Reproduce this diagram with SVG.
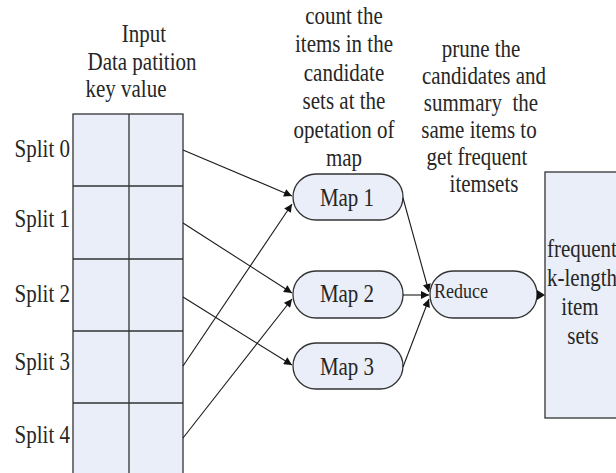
<svg xmlns="http://www.w3.org/2000/svg" width="616" height="473" viewBox="0 0 616 473" font-family="'Liberation Serif', 'DejaVu Serif', serif">
  <style>
    text { font-family: 'Liberation Serif', 'DejaVu Serif', serif; font-size: 21px; fill: #262626;
           transform-box: fill-box; transform-origin: 50% 80%; transform: scaleY(1.18); }
    .c { text-anchor: middle; }
    .e { text-anchor: end; }
    .box { fill: #e9eef8; stroke: #333; stroke-width: 1.3; }
    .grid { stroke: #333; stroke-width: 1.3; fill: none; }
    .edge { stroke: #1a1a1a; stroke-width: 1.1; fill: none; marker-end: url(#arrow); }
  </style>
  <defs>
    <marker id="arrow" viewBox="0 0 10 10" refX="10" refY="5" markerWidth="10" markerHeight="8" markerUnits="userSpaceOnUse" orient="auto">
      <path d="M0,0 L10,5 L0,10 Z" fill="#111"/>
    </marker>
  </defs>
  <rect width="616" height="473" fill="#fff"/>

  <!-- input partition table -->
  <g id="input">
    <text class="c" x="144" y="42">Input</text>
    <text class="c" x="142" y="70">Data patition</text>
    <text class="c" x="126" y="97">key value</text>
    <rect class="box" x="73" y="114" width="110" height="364"/>
    <path class="grid" d="M129,114 V478 M73,186 H183 M73,259 H183 M73,331 H183 M73,403 H183"/>
    <text class="e" x="70" y="157">Split 0</text>
    <text class="e" x="70" y="227">Split 1</text>
    <text class="e" x="70" y="302">Split 2</text>
    <text class="e" x="70" y="370">Split 3</text>
    <text class="e" x="70" y="443">Split 4</text>
  </g>

  <!-- map stage caption -->
  <g id="map-caption">
    <text class="c" x="344" y="24">count the</text>
    <text class="c" x="344" y="52">items in the</text>
    <text class="c" x="344" y="81">candidate</text>
    <text class="c" x="344" y="109">sets at the</text>
    <text class="c" x="344" y="138">opetation of</text>
    <text class="c" x="344" y="166">map</text>
  </g>

  <!-- reduce stage caption -->
  <g id="reduce-caption">
    <text class="c" x="481" y="57">prune the</text>
    <text class="c" x="484" y="84">candidates and</text>
    <text class="c" x="481" y="111">summary&#160; the</text>
    <text class="c" x="479" y="138">same items to</text>
    <text class="c" x="477" y="165">get frequent</text>
    <text class="c" x="484" y="192">itemsets</text>
  </g>

  <g id="map1">
    <rect class="box" x="293" y="174" width="110" height="46" rx="23"/>
    <text class="c" x="347" y="206">Map 1</text>
  </g>
  <g id="map2">
    <rect class="box" x="293" y="271" width="110" height="47" rx="23"/>
    <text class="c" x="347" y="302">Map 2</text>
  </g>
  <g id="map3">
    <rect class="box" x="293" y="343" width="110" height="46" rx="23"/>
    <text class="c" x="347" y="375">Map 3</text>
  </g>
  <g id="reduce">
    <rect class="box" x="430" y="271" width="107" height="47" rx="23"/>
    <text x="434" y="298" style="font-size:18px">Reduce</text>
  </g>
  <g id="output">
    <rect class="box" x="545" y="172" width="80" height="246"/>
    <text class="c" x="582" y="257">frequent</text>
    <text class="c" x="582" y="286">k-length</text>
    <text class="c" x="580" y="315">item</text>
    <text class="c" x="583" y="344">sets</text>
  </g>

  <!-- connectors -->
  <g id="connectors">
    <path class="edge" d="M183,150 L292,196"/>
    <path class="edge" d="M183,223 L292,293"/>
    <path class="edge" d="M183,297 L292,365"/>
    <path class="edge" d="M183,366 L292,204"/>
    <path class="edge" d="M183,438 L292,299"/>
    <path class="edge" d="M403,198 L429,292"/>
    <path class="edge" d="M403,295 L429,295"/>
    <path class="edge" d="M403,367 L429,299"/>
    <path d="M537,290 L545,295 L537,300 Z" fill="#111"/>
  </g>
</svg>
